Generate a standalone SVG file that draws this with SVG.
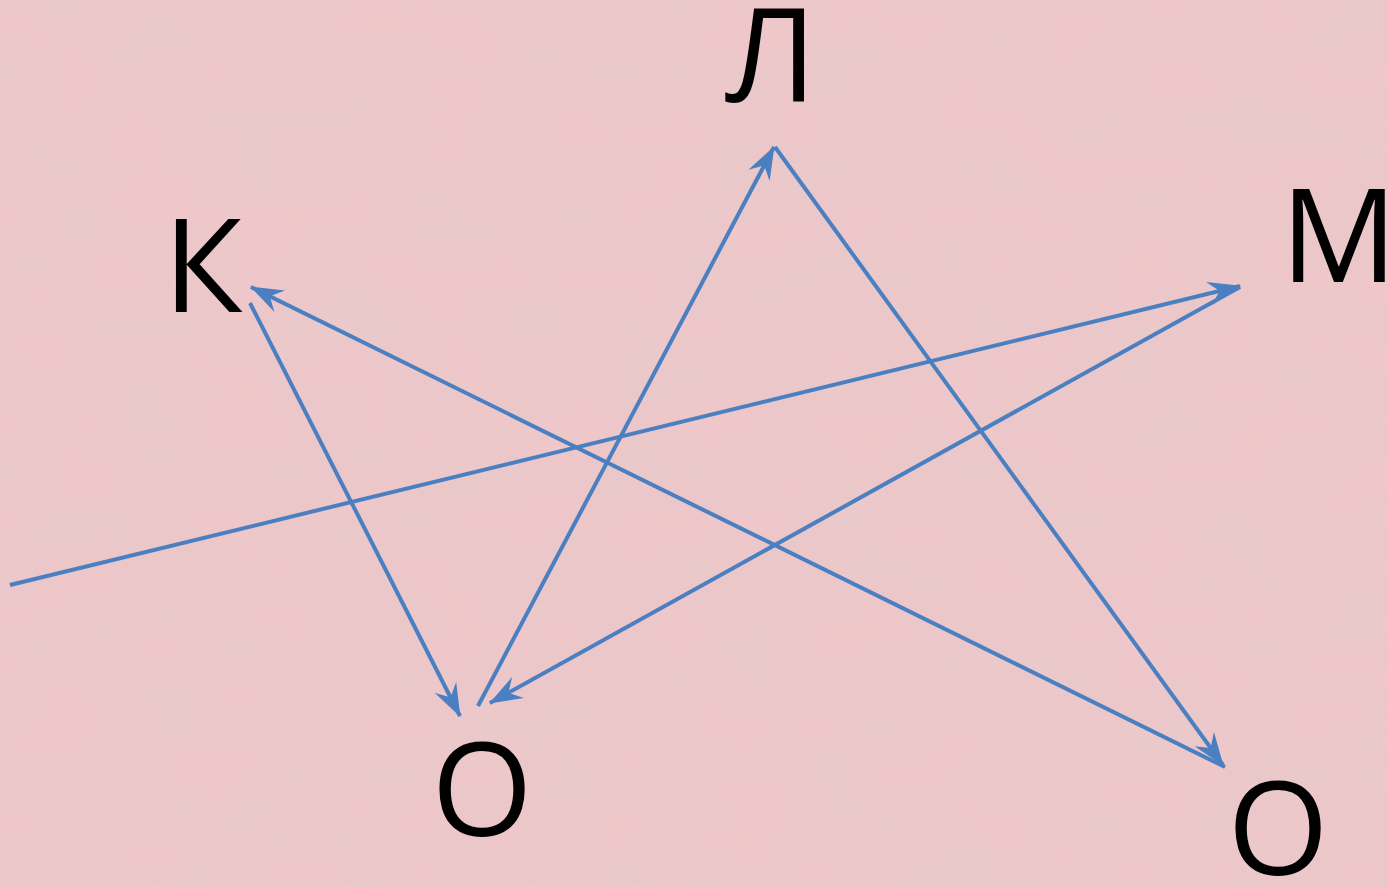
<svg xmlns="http://www.w3.org/2000/svg" width="1388" height="887" viewBox="0 0 1388 887">
<defs>
<style>
.lbl{font-family:"Open Sans","Noto Sans","DejaVu Sans",sans-serif;font-size:130px;fill:#000;text-anchor:middle}
.ln{stroke:#4a7fc1;stroke-width:4;fill:none}
</style>
<marker id="ah" viewBox="-34 -14 36 28" refX="0" refY="0" markerWidth="36" markerHeight="28" markerUnits="userSpaceOnUse" orient="auto">
<path d="M1,0 L-32,-12 L-21,0 L-32,12 z" fill="#4a7fc1"/>
</marker>
<filter id="tex" x="0" y="0" width="100%" height="100%">
<feTurbulence type="fractalNoise" baseFrequency="0.01 0.02" numOctaves="4" seed="7"/>
<feColorMatrix type="matrix" values="0 0 0 0 0.78  0 0 0 0 0.58  0 0 0 0 0.60  0 0 0 0.6 0"/>
</filter>
</defs>
<rect width="1388" height="887" fill="#efc7c8"/>
<rect width="1388" height="887" filter="url(#tex)"/>
<g id="connectors">
<line class="ln" x1="250" y1="303" x2="460" y2="716" marker-end="url(#ah)"/>
<line class="ln" x1="478" y1="706" x2="774" y2="147" marker-end="url(#ah)"/>
<line class="ln" x1="775" y1="147" x2="1223" y2="765" marker-end="url(#ah)"/>
<line class="ln" x1="1225" y1="767" x2="251" y2="287" marker-end="url(#ah)"/>
<line class="ln" x1="10" y1="585" x2="1240" y2="286" marker-end="url(#ah)"/>
<line class="ln" x1="1240" y1="287" x2="490" y2="703" marker-end="url(#ah)"/>
</g>
<g id="node-L"><text class="lbl" x="771" y="102">Л</text></g>
<g id="node-K"><text class="lbl" x="203" y="312">К</text></g>
<g id="node-M"><text class="lbl" x="1339" y="282">М</text></g>
<g id="node-O1"><text class="lbl" x="482" y="836">О</text></g>
<g id="node-O2"><text class="lbl" x="1278" y="875">О</text></g>
</svg>
